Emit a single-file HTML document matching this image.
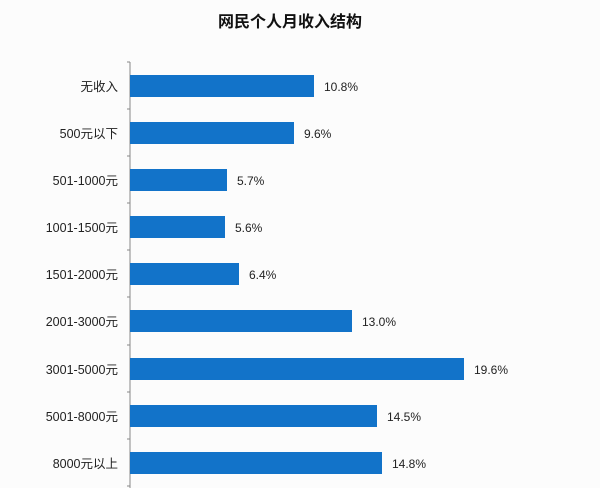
<!DOCTYPE html><html><head><meta charset="utf-8"><style>
body{margin:0;background:#fff}
svg{display:block}
text{font-family:"Liberation Sans","Noto Sans CJK SC",sans-serif}
</style></head><body>
<svg width="600" height="488" xmlns="http://www.w3.org/2000/svg">
<rect width="600" height="488" fill="#fcfcfc"/>
<text x="290" y="27" font-size="16" font-weight="bold" text-anchor="middle" fill="#111">网民个人月收入结构</text>
<line x1="130" y1="62" x2="130" y2="488" stroke="#888" stroke-width="1"/>
<g stroke="#888">
<line x1="127" y1="62" x2="130" y2="62"/><line x1="127" y1="109" x2="130" y2="109"/><line x1="127" y1="156" x2="130" y2="156"/><line x1="127" y1="203" x2="130" y2="203"/><line x1="127" y1="250" x2="130" y2="250"/><line x1="127" y1="297" x2="130" y2="297"/><line x1="127" y1="345" x2="130" y2="345"/><line x1="127" y1="392" x2="130" y2="392"/><line x1="127" y1="439" x2="130" y2="439"/><line x1="127" y1="486" x2="130" y2="486"/>
</g>
<g fill="#1273c9">
<rect x="130" y="75" width="184" height="22"/>
<rect x="130" y="122" width="164" height="22"/>
<rect x="130" y="169" width="97" height="22"/>
<rect x="130" y="216" width="95" height="22"/>
<rect x="130" y="263" width="109" height="22"/>
<rect x="130" y="310" width="222" height="22"/>
<rect x="130" y="358" width="334" height="22"/>
<rect x="130" y="405" width="247" height="22"/>
<rect x="130" y="452" width="252" height="22"/>
</g>
<g font-size="12.5" fill="#222" text-anchor="end">
<text x="118" y="91">无收入</text>
<text x="118" y="138">500元以下</text>
<text x="118" y="185">501-1000元</text>
<text x="118" y="232">1001-1500元</text>
<text x="118" y="279">1501-2000元</text>
<text x="118" y="326">2001-3000元</text>
<text x="118" y="374">3001-5000元</text>
<text x="118" y="421">5001-8000元</text>
<text x="118" y="468">8000元以上</text>
</g>
<g font-size="12" fill="#222">
<text x="324" y="91">10.8%</text>
<text x="304" y="138">9.6%</text>
<text x="237" y="185">5.7%</text>
<text x="235" y="232">5.6%</text>
<text x="249" y="279">6.4%</text>
<text x="362" y="326">13.0%</text>
<text x="474" y="374">19.6%</text>
<text x="387" y="421">14.5%</text>
<text x="392" y="468">14.8%</text>
</g>
</svg>
</body></html>
